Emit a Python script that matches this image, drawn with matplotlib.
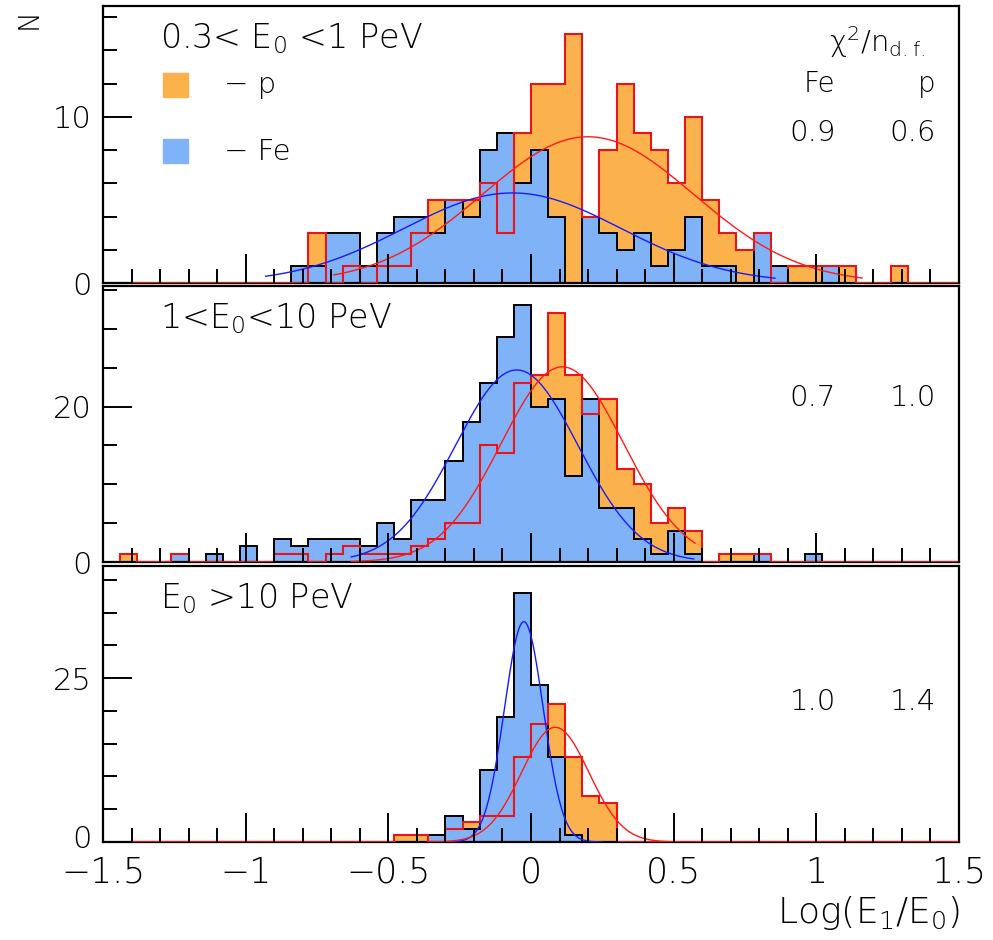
import numpy as np
import matplotlib
matplotlib.use("Agg")
import matplotlib.pyplot as plt
from matplotlib.ticker import MultipleLocator, FixedLocator

plt.rcParams['font.family'] = ['DejaVu Sans']
plt.rcParams['font.weight'] = 'light'
plt.rcParams['mathtext.default'] = 'regular'

# bin edges of Log(E1/E0), 50 bins of 0.06
x_lo, x_hi, n_bins = -1.5, 1.5, 50

# counts per bin (index 0 = [-1.50,-1.44))
fe_low = [0] * 11 + [1, 1, 3, 3, 1, 3, 4, 4, 3, 5, 4, 8, 9, 6, 8, 4, 0, 4, 3, 2,
                     3, 1, 2, 4, 1, 1, 0, 3, 1, 0, 0, 1] + [0] * 7
p_low = [0] * 12 + [3, 0, 1, 0, 1, 1, 3, 5, 5, 5, 6, 3, 9, 12, 12, 15, 4, 8, 12, 9,
                    8, 6, 10, 5, 3, 2, 3, 0, 1, 1, 1, 1, 0, 0, 1] + [0] * 3
fe_mid = [0, 0, 0, 0, 1, 0, 1, 0, 2, 0, 3, 2, 3, 3, 3, 2, 5, 3, 8, 8, 13, 18, 23,
          29, 33, 20, 21, 11, 21, 7, 7, 3, 1, 4, 1, 0, 0, 0, 1, 0, 0, 1] + [0] * 8
p_mid = [0, 1, 0, 0, 1, 0, 0, 0, 0, 0, 1, 1, 0, 1, 2, 1, 1, 1, 2, 3, 5, 5, 15, 14,
         23, 24, 32, 24, 19, 21, 12, 10, 5, 7, 4, 0, 1, 1, 1] + [0] * 11
fe_high = [0] * 19 + [1, 4, 2, 11, 19, 38, 24, 13, 1] + [0] * 22
p_high = [0] * 17 + [1, 1, 0, 2, 3, 4, 4, 13, 18, 21, 13, 7, 6] + [0] * 20

# gaussian fits: amplitude, mean, sigma, range
fit_fe = [(5.42, -0.065, 0.38, -0.93, 0.855),
          (24.7, -0.05, 0.215, -0.63, 0.57),
          (33.6, -0.025, 0.068, -0.30, 0.25)]
fit_p = [(8.8, 0.20, 0.37, -0.69, 1.16),
         (25.1, 0.11, 0.215, -0.63, 0.575),
         (17.5, 0.085, 0.118, -0.30, 0.52)]

chi_fe = ["0.9", "0.7", "1.0"]
chi_p = ["0.6", "1.0", "1.4"]
titles = ["0.3< $E_0$ <1 PeV", "1<$E_0$<10 PeV", "$E_0$ >10 PeV"]
y_max = [16.67, 35.5, 42.1]
y_major = [[0, 10], [0, 20], [0, 25]]
y_minor = [2, 5, 5]

orange = '#fbb24c'
blue = '#80b2f7'

W, H = 993, 940
fig = plt.figure(figsize=(W / 100, H / 100), dpi=100)
panels = [(6, 283), (286, 562), (566, 842)]
left, right = 103, 959
edges = np.linspace(x_lo, x_hi, n_bins + 1)

fe_all = [fe_low, fe_mid, fe_high]
p_all = [p_low, p_mid, p_high]

for i, (top, bot) in enumerate(panels):
    ax = fig.add_axes([left / W, 1 - bot / H, (right - left) / W, (bot - top) / H])
    fe = np.array(fe_all[i])
    p = np.array(p_all[i])
    ax.stairs(p, edges, fill=True, color=orange, lw=0, zorder=1)
    ax.stairs(fe, edges, fill=True, color=blue, lw=0, zorder=2)
    ax.stairs(fe, edges, color='black', lw=1.4, zorder=3)
    ax.stairs(p, edges, color='#e8141b', lw=1.5, zorder=4)

    a, m, s, x0, x1 = fit_fe[i]
    xx = np.linspace(x0, x1, 300)
    ax.plot(xx, a * np.exp(-(xx - m) ** 2 / (2 * s ** 2)), color='#1a1aff', lw=1.0, zorder=5)
    a, m, s, x0, x1 = fit_p[i]
    xx = np.linspace(x0, x1, 300)
    ax.plot(xx, a * np.exp(-(xx - m) ** 2 / (2 * s ** 2)), color='#ff1a1a', lw=1.0, zorder=5)

    ax.set_xlim(x_lo, x_hi)
    ax.set_ylim(0, y_max[i])
    ax.xaxis.set_major_locator(MultipleLocator(0.5))
    ax.xaxis.set_minor_locator(MultipleLocator(0.1))
    ax.yaxis.set_major_locator(FixedLocator(y_major[i]))
    ax.yaxis.set_minor_locator(MultipleLocator(y_minor[i]))
    ax.tick_params(which='both', direction='in', top=False, right=False, width=1.4)
    ax.tick_params(which='major', length=21)
    ax.tick_params(which='minor', length=10)
    ax.tick_params(axis='y', pad=8, labelsize=22)
    ax.tick_params(axis='x', pad=10, labelsize=25)
    ax.xaxis.set_zorder(6)
    ax.yaxis.set_zorder(6)
    for sp in ax.spines.values():
        sp.set_linewidth(1.6)
        sp.set_zorder(3.5)
    if i < 2:
        ax.set_xticklabels([])
    else:
        ax.set_xticks([-1.5, -1, -0.5, 0, 0.5, 1, 1.5])
        ax.set_xticklabels(['\u22121.5', '\u22121', '\u22120.5', '0', '0.5', '1', '1.5'])
        # bottom "0" written by hand, slightly lifted so it clears the x labels
        ax.set_yticklabels(['', str(y_major[i][1])])
        fig.text(92 / W, 1 - 848 / H, '0', fontsize=22, va='baseline', ha='right')

    # panel title and chi2 values
    fig.text(160 / W, 1 - (top + 33) / H, titles[i], fontsize=24, va='center', ha='left')
    yv = [133, 398, 702][i]
    fig.text(836 / W, 1 - yv / H, chi_fe[i], fontsize=21, va='center', ha='right')
    fig.text(936 / W, 1 - yv / H, chi_p[i], fontsize=21, va='center', ha='right')

# legend squares
fig.patches.append(plt.Rectangle((163 / W, 1 - 97 / H), 25 / W, 24 / H,
                                 transform=fig.transFigure, color=orange, figure=fig))
fig.patches.append(plt.Rectangle((163 / W, 1 - 163 / H), 25 / W, 24 / H,
                                 transform=fig.transFigure, color=blue, figure=fig))
fig.text(224 / W, 1 - 85 / H, '\u2212 p', fontsize=21, va='center', ha='left')
fig.text(224 / W, 1 - 152 / H, '\u2212 Fe', fontsize=21, va='center', ha='left')

# chi2 header
fig.text(877 / W, 1 - 42 / H, r'$\chi^2/n_{d.f.}$', fontsize=21, va='center', ha='center')
fig.text(819 / W, 1 - 84 / H, 'Fe', fontsize=20, va='center', ha='center')
fig.text(927 / W, 1 - 84 / H, 'p', fontsize=20, va='center', ha='center')

# axis titles
fig.text(29 / W, 1 - 19 / H, 'N', fontsize=20, rotation=90, va='center', ha='center')
fig.text(960 / W, 1 - 913 / H, 'Log($E_1$/$E_0$)', fontsize=26, va='center', ha='right')

fig.savefig('out.png', dpi=100)
